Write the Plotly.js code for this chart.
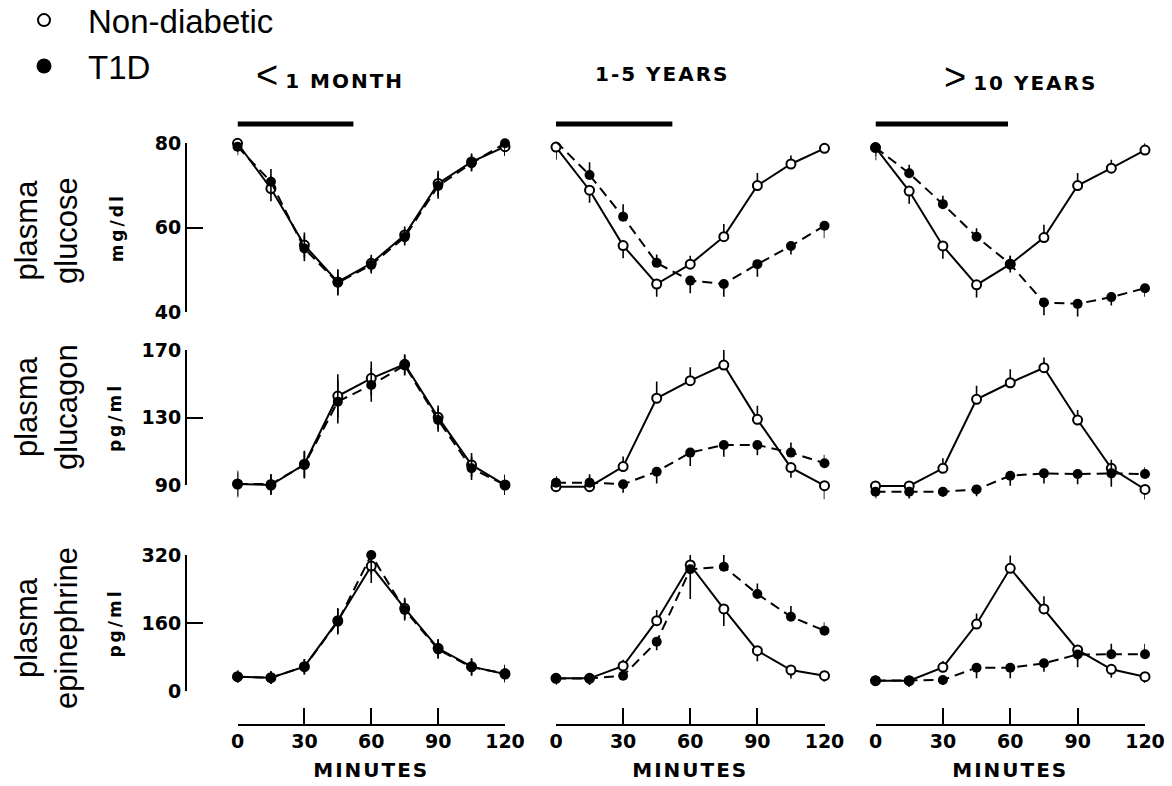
<!DOCTYPE html>
<html><head><meta charset="utf-8">
<script src="https://cdn.plot.ly/plotly-3.0.1.min.js"></script>
<style>html,body{margin:0;padding:0;background:#fff}#chart{width:1172px;height:786px}</style>
</head><body><div id="chart"></div>
<script>
// ---------- data ----------
const minutes = [0, 15, 30, 45, 60, 75, 90, 105, 120];
const panelTitles = ['< 1 MONTH', '1-5 YEARS', '> 10 YEARS'];
const rowTitles = ['plasma<br>glucose', 'plasma<br>glucagon', 'plasma<br>epinephrine'];
const unitLabels = ['mg/dl', 'pg/ml', 'pg/ml'];
const seriesNames = ['Non-diabetic', 'T1D'];
const xTicks = [0, 30, 60, 90, 120];
const xTitle = 'MINUTES';
const glucoseTicks = [40, 60, 80];
const glucagonTicks = [90, 130, 170];
const epinephrineTicks = [0, 160, 320];
// horizontal black bar above each column (minutes)
const barStart = [0, 0, 0];
const barEnd = [52, 52, 59];

// plasma glucose (mg/dl)
const gluND_1m    = [80.0, 69.3, 55.9, 47.2, 51.6, 58.3, 70.5, 75.6, 79.2];
const gluT1D_1m   = [79.2, 70.9, 55.1, 47.0, 51.2, 57.8, 69.9, 75.3, 80.0];
const gluND_1to5  = [79.1, 68.9, 55.8, 46.7, 51.4, 57.9, 70.0, 75.1, 78.8];
const gluT1D_1to5 = [80.4, 72.5, 62.6, 51.7, 47.5, 46.7, 51.4, 55.7, 60.5];
const gluND_gt10  = [79.0, 68.7, 55.7, 46.5, 51.4, 57.7, 70.0, 74.1, 78.4];
const gluT1D_gt10 = [79.0, 72.9, 65.6, 57.9, 51.4, 42.3, 42.0, 43.6, 45.7];
// plasma glucagon (pg/ml)
const gcgND_1m    = [90.6, 90.0, 102.3, 142.7, 153.2, 161.5, 130.1, 101.9, 90.0];
const gcgT1D_1m   = [90.6, 90.5, 101.9, 139.4, 149.3, 160.9, 128.5, 99.9, 90.0];
const gcgND_1to5  = [89.0, 89.0, 100.9, 141.4, 151.8, 161.1, 128.9, 100.3, 89.6];
const gcgT1D_1to5 = [91.4, 91.4, 90.4, 97.9, 109.2, 113.7, 113.7, 109.2, 102.9];
const gcgND_gt10  = [89.4, 89.4, 99.9, 140.8, 150.6, 159.5, 128.5, 99.9, 87.4];
const gcgT1D_gt10 = [86.0, 86.0, 86.0, 87.4, 95.5, 96.9, 96.5, 96.9, 96.5];
// plasma epinephrine (pg/ml)
const epiND_1m    = [33.7, 31.4, 57.3, 165.4, 294.0, 194.5, 100.4, 57.3, 40.0];
const epiT1D_1m   = [33.7, 31.4, 57.0, 163.0, 320.0, 190.6, 98.0, 55.7, 41.6];
const epiND_1to5  = [29.8, 29.8, 58.8, 165.4, 296.5, 193.0, 94.9, 49.4, 36.0];
const epiT1D_1to5 = [29.4, 29.4, 36.0, 116.0, 286.3, 292.5, 228.2, 174.9, 142.0];
const epiND_gt10  = [24.3, 24.3, 55.7, 157.6, 288.6, 193.0, 96.5, 51.0, 33.7];
const epiT1D_gt10 = [24.3, 24.3, 25.9, 54.9, 54.9, 65.1, 86.0, 86.3, 86.3];

// error bars (SEM, drawn up / down)
const gluND_1m_up = [2, 3, 3, 3, 2, 2, 3, 2, 2],  gluND_1m_dn = [2, 3, 3, 3, 2, 2, 3, 2, 2];
const gluT1D_1m_up = [2, 3, 3, 3, 2, 2, 3, 2, 3], gluT1D_1m_dn = [2, 3, 3, 3, 2, 2, 3, 2, 3];
const gluND_1to5_up = [2, 0, 0, 0, 2, 3, 3, 2, 3], gluND_1to5_dn = [3, 3, 3, 3, 0, 0, 0, 0, 0];
const gluT1D_1to5_up = [2, 3, 3, 2, 0, 0, 0, 0, 0], gluT1D_1to5_dn = [0, 0, 0, 0, 3, 3, 3, 2, 3];
const gluND_gt10_up = [0, 0, 0, 0, 2, 3, 3, 2, 3], gluND_gt10_dn = [3, 3, 3, 3, 0, 0, 0, 0, 0];
const gluT1D_gt10_up = [0, 2, 2, 2, 2, 0, 0, 0, 0], gluT1D_gt10_dn = [2, 0, 0, 0, 2, 3, 3, 2, 2];

const gcgND_1m_up = [8, 6, 8, 13, 10, 6, 7, 7, 6], gcgND_1m_dn = [8, 6, 8, 13, 10, 6, 7, 7, 6];
const gcgT1D_1m_up = [7, 6, 8, 13, 10, 6, 7, 7, 6], gcgT1D_1m_dn = [7, 6, 8, 13, 10, 6, 7, 7, 6];
const gcgND_1to5_up = [4, 6, 6, 10, 8, 10, 8, 0, 0], gcgND_1to5_dn = [0, 0, 0, 0, 0, 0, 0, 6, 8];
const gcgT1D_1to5_up = [4, 5, 0, 0, 0, 0, 0, 6, 5], gcgT1D_1to5_dn = [0, 0, 5, 7, 8, 7, 6, 0, 0];
const gcgND_gt10_up = [0, 0, 6, 8, 8, 6, 6, 0, 0], gcgND_gt10_dn = [0, 0, 0, 0, 0, 0, 0, 6, 6];
const gcgT1D_gt10_up = [0, 0, 0, 0, 0, 0, 0, 8, 4], gcgT1D_gt10_dn = [4, 4, 3, 4, 6, 6, 6, 8, 0];

const epiND_1m_up = [15, 15, 18, 30, 40, 25, 22, 20, 20], epiND_1m_dn = [15, 15, 18, 30, 40, 25, 22, 20, 20];
const epiT1D_1m_up = [15, 15, 18, 30, 45, 25, 22, 20, 20], epiT1D_1m_dn = [15, 15, 18, 30, 45, 25, 22, 20, 20];
const epiND_1to5_up = [12, 12, 15, 25, 35, 0, 0, 0, 0], epiND_1to5_dn = [12, 12, 0, 0, 0, 40, 25, 20, 15];
const epiT1D_1to5_up = [0, 0, 0, 0, 0, 30, 25, 25, 20], epiT1D_1to5_dn = [15, 15, 10, 20, 70, 0, 0, 0, 0];
const epiND_gt10_up = [12, 0, 15, 25, 30, 30, 0, 0, 0], epiND_gt10_dn = [12, 15, 0, 0, 0, 0, 25, 20, 15];
const epiT1D_gt10_up = [0, 0, 0, 0, 0, 0, 0, 25, 25], epiT1D_gt10_dn = [12, 12, 12, 25, 25, 20, 30, 0, 0];

// ---------- panels (row, col) ----------
const panels = [
  [0, 0, gluND_1m, gluND_1m_up, gluND_1m_dn, gluT1D_1m, gluT1D_1m_up, gluT1D_1m_dn],
  [0, 1, gluND_1to5, gluND_1to5_up, gluND_1to5_dn, gluT1D_1to5, gluT1D_1to5_up, gluT1D_1to5_dn],
  [0, 2, gluND_gt10, gluND_gt10_up, gluND_gt10_dn, gluT1D_gt10, gluT1D_gt10_up, gluT1D_gt10_dn],
  [1, 0, gcgND_1m, gcgND_1m_up, gcgND_1m_dn, gcgT1D_1m, gcgT1D_1m_up, gcgT1D_1m_dn],
  [1, 1, gcgND_1to5, gcgND_1to5_up, gcgND_1to5_dn, gcgT1D_1to5, gcgT1D_1to5_up, gcgT1D_1to5_dn],
  [1, 2, gcgND_gt10, gcgND_gt10_up, gcgND_gt10_dn, gcgT1D_gt10, gcgT1D_gt10_up, gcgT1D_gt10_dn],
  [2, 0, epiND_1m, epiND_1m_up, epiND_1m_dn, epiT1D_1m, epiT1D_1m_up, epiT1D_1m_dn],
  [2, 1, epiND_1to5, epiND_1to5_up, epiND_1to5_dn, epiT1D_1to5, epiT1D_1to5_up, epiT1D_1to5_dn],
  [2, 2, epiND_gt10, epiND_gt10_up, epiND_gt10_dn, epiT1D_gt10, epiT1D_gt10_up, epiT1D_gt10_dn]
];

const W = 1172, H = 786;
const px = v => v / W;
const py = v => 1 - v / H;
const colDomains = [[px(237.5), px(505)], [px(556), px(824.5)], [px(875.5), px(1145)]];
const rowPix = [[312.3, 143.3], [485, 350], [691, 555]];   // [bottom, top] pixel of axis range
const yRanges = [[40, 80], [90, 170], [0, 320]];
const yTickSets = [glucoseTicks, glucagonTicks, epinephrineTicks];
const axId = (k) => (k === 0 ? '' : String(k + 1));
const EXT = 0.15; // hidden data axes extend below the visible range so lines are not clipped

const tickFont = {family: 'DejaVu Sans', size: 19, color: '#000', weight: 'bold'};
const traces = [];
panels.forEach(p => {
  const [r, c, nd, ndUp, ndDn, t1, t1Up, t1Dn] = p;
  const common = {x: minutes, xaxis: 'x' + axId(c), yaxis: 'y' + axId(r), showlegend: false,
                  cliponaxis: false, hoverinfo: 'x+y', type: 'scatter', mode: 'lines+markers'};
  traces.push(Object.assign({}, common, {
    y: nd, name: seriesNames[0],
    line: {color: '#000', width: 2},
    marker: {symbol: 'circle', size: 9, color: '#fff', line: {color: '#000', width: 2}},
    error_y: {type: 'data', symmetric: false, array: ndUp, arrayminus: ndDn, color: '#000', thickness: 1.6, width: 0}
  }));
  traces.push(Object.assign({}, common, {
    y: t1, name: seriesNames[1],
    line: {color: '#000', width: 2, dash: '10px,6px'},
    marker: {symbol: 'circle', size: 10, color: '#000', line: {color: '#000', width: 0}},
    error_y: {type: 'data', symmetric: false, array: t1Up, arrayminus: t1Dn, color: '#000', thickness: 1.6, width: 0}
  }));
});
// empty traces that carry the visible y axes
for (let r = 0; r < 3; r++) {
  traces.push({x: [null], y: [null], type: 'scatter', mode: 'markers', showlegend: false, hoverinfo: 'skip',
               xaxis: 'x', yaxis: 'y' + (r + 4)});
}
// legend-only entries
traces.push({x: [null], y: [null], type: 'scatter', mode: 'markers', name: seriesNames[0], legendgroup: 'a',
  marker: {symbol: 'circle', size: 12, color: '#fff', line: {color: '#000', width: 2}}, xaxis: 'x', yaxis: 'y'});
traces.push({x: [null], y: [null], type: 'scatter', mode: 'markers', name: seriesNames[1], legendgroup: 'b',
  marker: {symbol: 'circle', size: 15, color: '#000'}, xaxis: 'x', yaxis: 'y'});

const layout = {
  width: W, height: H,
  margin: {l: 0, r: 0, t: 0, b: 0, autoexpand: false},
  paper_bgcolor: '#fff', plot_bgcolor: 'rgba(0,0,0,0)',
  font: {family: 'Liberation Sans, Arial, sans-serif', color: '#000'},
  showlegend: true,
  legend: {x: 0, y: 1.01, xanchor: 'left', yanchor: 'top', font: {size: 33, family: 'Liberation Sans'},
           itemwidth: 78, tracegroupgap: 0, bgcolor: 'rgba(0,0,0,0)'},
  annotations: [], shapes: []
};
for (let c = 0; c < 3; c++) {
  layout['xaxis' + axId(c)] = {
    domain: colDomains[c], range: [0, 120], anchor: 'free', position: 1 - 724.5 / H,
    showline: true, linewidth: 2, linecolor: '#000', ticks: 'inside', ticklen: 16, tickwidth: 2, tickcolor: '#000',
    tickvals: xTicks, tickfont: tickFont, showgrid: false, zeroline: false, fixedrange: true,
    title: {text: '<span style="letter-spacing:2px">' + xTitle + '</span>', font: {family: 'DejaVu Sans', size: 20, weight: 'bold'}, standoff: 11}
  };
}
for (let r = 0; r < 3; r++) {
  const [lo, hi] = yRanges[r];
  const [bPix, tPix] = rowPix[r];
  const ext = EXT * (hi - lo);
  // hidden data axis
  layout['yaxis' + axId(r)] = {
    domain: [py(bPix + EXT * (bPix - tPix)), py(tPix)], range: [lo - ext, hi],
    visible: false, anchor: 'free', position: 186 / W, fixedrange: true, showgrid: false, zeroline: false
  };
  // visible axis
  layout['yaxis' + (r + 4)] = {
    domain: [py(bPix), py(tPix)], range: yRanges[r], anchor: 'free', position: 186 / W,
    showline: true, linewidth: 2, linecolor: '#000', ticks: 'inside', ticklen: 16, tickwidth: 2, tickcolor: '#000',
    tickvals: yTickSets[r], tickfont: tickFont, showgrid: false, zeroline: false, fixedrange: true,
    title: {text: '<span style="letter-spacing:3px">' + unitLabels[r] + '</span>', font: {family: 'DejaVu Sans', size: 17, weight: 'bold'}, standoff: r === 0 ? 26 : 15}
  };
  layout.annotations.push({
    xref: 'paper', yref: 'paper', x: px(46), y: [py(231), py(407), py(628)][r],
    text: rowTitles[r], textangle: -90, showarrow: false, xanchor: 'center', yanchor: 'middle',
    font: {size: 31, family: 'Liberation Sans'}
  });
}
const titleCenters = [[330, 75], [662, 74], [1020, 77]];
panelTitles.forEach((t, c) => {
  let txt;
  const m = t.match(/^([<>])\s(.*)$/);
  if (m) {
    const sym = m[1] === '<' ? '&lt;' : '&gt;';
    txt = '<span style="font-size:38px;font-weight:normal;font-family:Liberation Sans">' + sym + '</span> ' +
          '<span style="letter-spacing:2px">' + m[2] + '</span>';
  } else {
    txt = '<span style="letter-spacing:2px">' + t + '</span>';
  }
  layout.annotations.push({
    xref: 'paper', yref: 'paper', x: px(titleCenters[c][0]), y: py(titleCenters[c][1]),
    text: txt, showarrow: false, xanchor: 'center', yanchor: 'middle',
    font: {family: 'DejaVu Sans', size: 20, weight: 'bold'}
  });
  layout.shapes.push({
    type: 'line', xref: 'x' + axId(c), yref: 'paper', x0: barStart[c], x1: barEnd[c],
    y0: py(124), y1: py(124), line: {color: '#000', width: 5}
  });
});

Plotly.newPlot('chart', traces, layout, {displayModeBar: false, staticPlot: true});
</script>
</body></html>
